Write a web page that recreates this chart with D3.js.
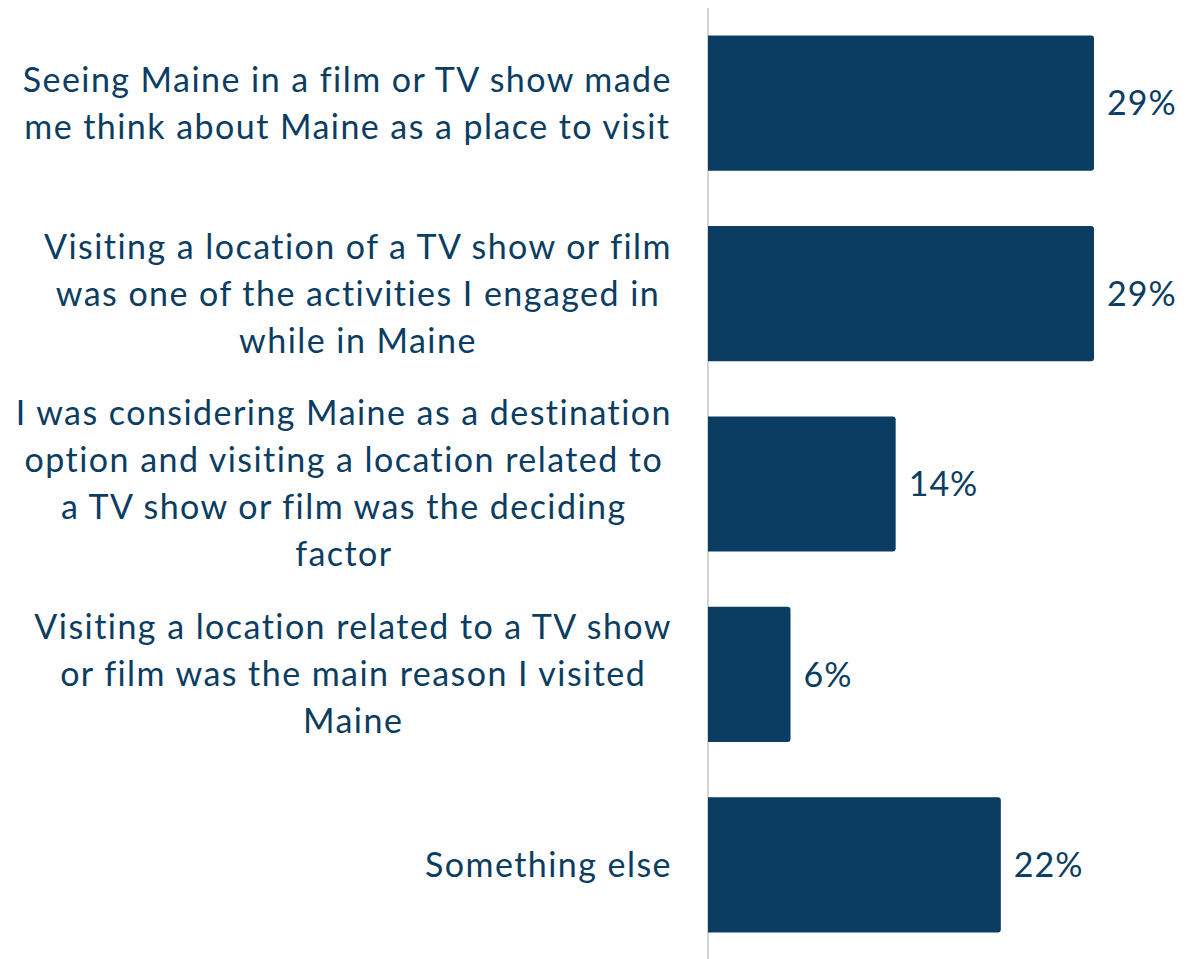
<!DOCTYPE html>
<html><head><meta charset="utf-8">
<script src="https://cdn.jsdelivr.net/npm/d3@7"></script>
<style>html,body{margin:0;padding:0;background:#fff;}</style>
</head><body>
<svg id="chart" width="1202" height="959"></svg>
<script>
const categories = [
  ["Seeing Maine in a film or TV show made", "me think about Maine as a place to visit"],
  ["Visiting a location of a TV show or film", "was one of the activities I engaged in", "while in Maine"],
  ["I was considering Maine as a destination", "option and visiting a location related to", "a TV show or film was the deciding", "factor"],
  ["Visiting a location related to a TV show", "or film was the main reason I visited", "Maine"],
  ["Something else"]
];
const values = [29, 29, 14.1, 6.2, 22];
const valueLabels = ["29%", "29%", "14%", "6%", "22%"];

const color = "#0b3d62";
const font = "Lato, 'Open Sans', sans-serif";
const svg = d3.select("#chart");
const x0 = 708;
const x = d3.scaleLinear().domain([0, 29]).range([x0, 1094]);
const idx = d3.range(values.length);
const y = d3.scaleBand().domain(idx).range([8, 960]).paddingInner(0.29).paddingOuter(0.145);

// axis line
svg.append("line").attr("x1", x0).attr("x2", x0).attr("y1", 8).attr("y2", 959)
  .attr("stroke", "#d4d4d4").attr("stroke-width", 2);

// bars with right rounded corners
const r = 3;
svg.selectAll("path.bar").data(idx).join("path").attr("class", "bar")
  .attr("fill", color)
  .attr("d", i => {
    const xa = x(0), xb = x(values[i]), yt = y(i), h = y.bandwidth();
    return `M${xa},${yt}H${xb - r}Q${xb},${yt} ${xb},${yt + r}V${yt + h - r}Q${xb},${yt + h} ${xb - r},${yt + h}H${xa}Z`;
  });

// value labels
svg.selectAll("text.val").data(idx).join("text").attr("class", "val")
  .attr("x", i => x(values[i]) + 13)
  .attr("y", i => y(i) + y.bandwidth() / 2)
  .attr("dy", "0.36em")
  .attr("fill", color).attr("font-family", font).attr("font-size", 34)
  .attr("letter-spacing", 1)
  .text(i => valueLabels[i]);

// category labels: block right-aligned, lines centered in block
const fs = 34, lh = 47, rightEdge = 672;
idx.forEach(i => {
  const lines = categories[i];
  const g = svg.append("g");
  const cy = y(i) + y.bandwidth() / 2;
  const texts = lines.map((ln, k) => g.append("text")
    .attr("y", cy + (k - (lines.length - 1) / 2) * lh)
    .attr("dy", "0.35em")
    .attr("fill", color).attr("font-family", font).attr("font-size", fs)
    .attr("letter-spacing", 1.45)
    .attr("text-anchor", "middle").text(ln));
  const w = d3.max(texts, t => t.node().getComputedTextLength());
  texts.forEach(t => t.attr("x", rightEdge - w / 2));
});
</script>
</body></html>
